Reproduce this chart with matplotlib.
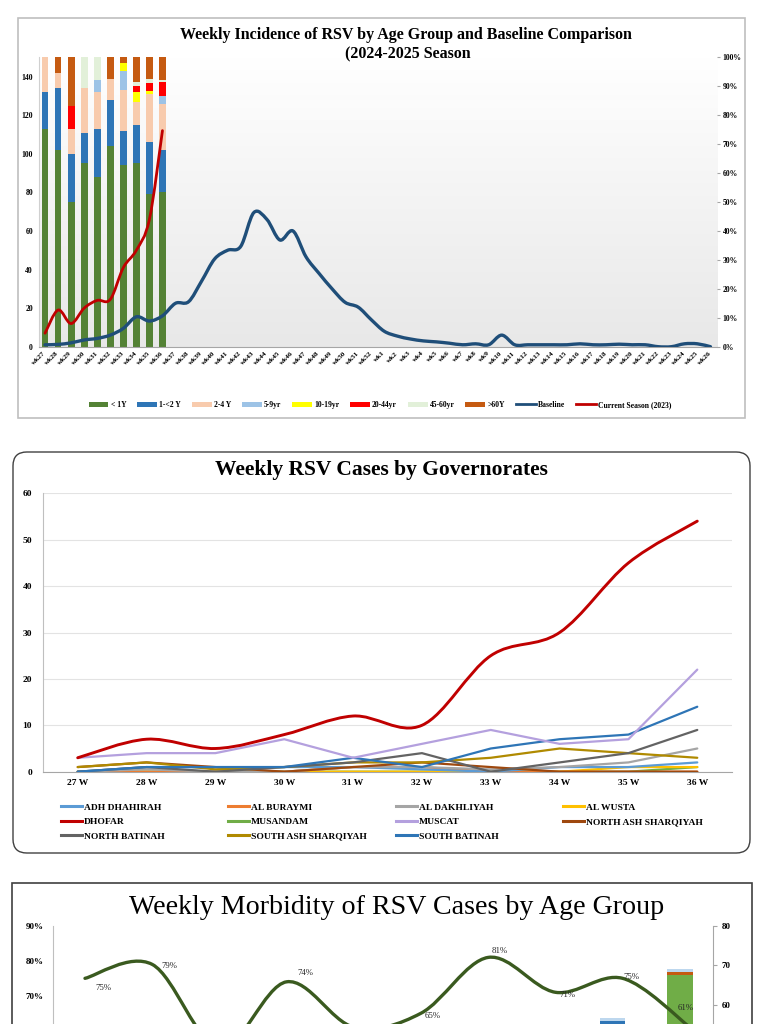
import numpy as np
import matplotlib
matplotlib.use("Agg")
import matplotlib.pyplot as plt
from matplotlib.path import Path
from matplotlib.patches import PathPatch, Rectangle, FancyBboxPatch, Patch
from matplotlib.lines import Line2D
from matplotlib.ticker import FuncFormatter

plt.rcParams['font.family'] = ['Liberation Serif', 'DejaVu Serif']

# ---------------- Panel 1 data ----------------
weeks_top = ["wk27", "wk28", "wk29", "wk30", "wk31", "wk32", "wk33", "wk34", "wk35", "wk36",
             "wk37", "wk38", "wk39", "wk40", "wk41", "wk42", "wk43", "wk44", "wk45", "wk46",
             "wk47", "wk48", "wk49", "wk50", "wk51", "wk52", "wk1", "wk2", "wk3", "wk4",
             "wk5", "wk6", "wk7", "wk8", "wk9", "wk10", "wk11", "wk12", "wk13", "wk14",
             "wk15", "wk16", "wk17", "wk18", "wk19", "wk20", "wk21", "wk22", "wk23", "wk24",
             "wk25", "wk26"]
age_labels = ["< 1Y", "1-<2 Y", "2-4 Y", "5-9yr", "10-19yr", "20-44yr", "45-60yr", ">60Y"]
age_lt1 = [113, 102, 75, 95, 88, 104, 94, 95, 79, 80]
age_1to2 = [19, 32, 25, 16, 25, 24, 18, 20, 27, 22]
age_2to4 = [25, 8, 13, 23, 19, 11, 21, 12, 25, 24]
age_5to9 = [0, 0, 0, 0, 6, 0, 10, 0, 0, 4]
age_10to19 = [0, 0, 0, 0, 0, 0, 4, 5, 1.5, 0]
age_20to44 = [0, 0, 12, 0, 0, 0, 0, 3, 4, 7]
age_45to60 = [0, 0, 0, 18, 14, 0, 0, 2, 2, 1]
age_gt60 = [0, 12, 30, 0, 0, 15, 8, 15, 14, 15]
current_season = [7, 19, 12, 20, 24, 24.5, 41, 50, 66, 112]
baseline = [1, 1.2, 2, 3.5, 4.3, 6, 9.5, 15.5, 13.3, 16,
            22.5, 23.3, 34, 45.5, 50, 52, 69.5, 66, 55.3, 60,
            46.6, 38, 30, 23, 20.5, 14,
            8, 5.5, 4, 3, 2.5, 1.8, 1, 1.5, 1, 6,
            1, 1, 1, 1, 1, 1.5, 1, 1, 1.3, 1,
            1, 0, 0, 1.5, 1.5, 0]

# ---------------- Panel 2 data ----------------
gov_weeks = ["27 W", "28 W", "29 W", "30 W", "31 W", "32 W", "33 W", "34 W", "35 W", "36 W"]
gov_names = ["ADH DHAHIRAH", "AL BURAYMI", "AL DAKHLIYAH", "AL WUSTA", "DHOFAR", "MUSANDAM",
             "MUSCAT", "NORTH ASH SHARQIYAH", "NORTH BATINAH", "SOUTH ASH SHARQIYAH", "SOUTH BATINAH"]
adh_dhahirah = [0, 1, 1, 1, 1, 0.5, 0, 1, 1, 2]
al_buraymi = [0, 0, 0, 0, 1, 1, 0, 0, 0, 0]
al_dakhliyah = [0, 0.5, 0, 0, 1, 1, 0.5, 1, 2, 5]
al_wusta = [0, 0, 0, 0, 0, 0, 0, 0, 1, 1]
dhofar = [3, 7, 5, 8, 12, 10, 25, 30, 45, 54]
musandam = [0, 0, 0, 0, 0, 0, 0, 0, 0, 1]
muscat = [3, 4, 4, 7, 3, 6, 9, 6, 7, 22]
north_ash_sharqiyah = [1, 2, 1, 0, 1, 2, 1, 0, 0, 0]
north_batinah = [0, 1, 0, 1, 2, 4, 0, 2, 4, 9]
south_ash_sharqiyah = [1, 2, 0.5, 1, 2, 2, 3, 5, 4, 3]
south_batinah = [0, 1, 1, 1, 3, 1, 5, 7, 8, 14]

# ---------------- Panel 3 data ----------------
morb_weeks = ["wk27", "wk28", "wk29", "wk30", "wk31", "wk32", "wk33", "wk34", "wk35", "wk36"]
morb_pct = [0.75, 0.79, 0.55, 0.74, 0.61, 0.65, 0.81, 0.71, 0.75, 0.61]
morb_lt1 = [38, 35, 22, 30, 25, 33, 40, 36, 42, 67.5]
morb_1to2 = [6, 5, 6, 5, 6, 6, 4, 6, 13.8, 0]
morb_gt60 = [1, 1, 2, 1, 1, 1, 1, 1, 0, 0.8]
morb_other = [1, 1, 1, 1, 1, 1, 1, 1, 0.8, 0.8]
morb_pct_ticks = [0.6, 0.7, 0.8, 0.9]
morb_count_ticks = [60, 70, 80]

W, H = 768, 1024
fig = plt.figure(figsize=(7.68, 10.24), dpi=100)
fig.patch.set_facecolor('white')


def fx(px):
    return px / W


def fy(py):
    return 1 - py / H


def smooth_patch(xs, ys, color, lw, zorder=3):
    pts = np.column_stack([xs, ys]).astype(float)
    n = len(pts)
    verts = [pts[0]]
    codes = [Path.MOVETO]
    for i in range(n - 1):
        p0 = pts[i - 1] if i > 0 else pts[i]
        p1 = pts[i]
        p2 = pts[i + 1]
        p3 = pts[i + 2] if i + 2 < n else pts[i + 1]
        verts += [p1 + (p2 - p0) / 6.0, p2 - (p3 - p1) / 6.0, p2]
        codes += [Path.CURVE4] * 3
    return PathPatch(Path(verts, codes), fill=False, edgecolor=color, lw=lw,
                     zorder=zorder, capstyle='round', joinstyle='round')


BOLD = dict(fontweight='bold', fontstyle='normal')

# ======================= PANEL 1 =======================
fig.patches.append(Rectangle((fx(18), fy(418)), fx(745 - 18), (418 - 18) / H,
                             transform=fig.transFigure, fill=False, ec='#BFBFBF', lw=1.2))
ax1 = fig.add_axes([fx(38.5), fy(346.7), fx(717 - 38.5), (346.7 - 57.3) / H])
grad = np.linspace(0, 1, 256).reshape(-1, 1)
c_top = np.array([1.0, 1.0, 1.0])
c_bot = np.array([0.91, 0.91, 0.91])
img = c_top[None, None, :] * (1 - grad[:, :, None]) + c_bot[None, None, :] * grad[:, :, None]
ax1.imshow(img, extent=[-0.5, len(weeks_top) - 0.5, 0, 150], aspect='auto', zorder=0,
           origin='upper', interpolation='bilinear')

x_top = np.arange(len(weeks_top))
x_bar = np.arange(len(age_lt1))
age_series = [age_lt1, age_1to2, age_2to4, age_5to9, age_10to19, age_20to44, age_45to60, age_gt60]
age_colors = ['#548235', '#2E75B6', '#F8CBAD', '#9DC3E6', '#FFFF00', '#FF0000', '#E2F0D9', '#C55A11']
bottom = np.zeros(len(age_lt1))
for vals, col in zip(age_series, age_colors):
    ax1.bar(x_bar, vals, 0.52, bottom=bottom, color=col, edgecolor='none', zorder=2)
    bottom += np.array(vals, dtype=float)

ax1.add_patch(smooth_patch(x_top, baseline, '#1F4E79', 2.4, zorder=3))
ax1.add_patch(smooth_patch(x_bar, current_season, '#C00000', 2.0, zorder=4))

ax1.set_xlim(-0.5, len(weeks_top) - 0.5)
ax1.set_ylim(0, 150)
ax1.set_yticks(np.arange(0, 141, 20))
ax1.set_xticks(x_top)
ax1.set_xticklabels(weeks_top, rotation=45, ha='right', va='center', rotation_mode='anchor',
                    fontsize=5.2, fontweight='bold')
ax1.tick_params(axis='x', length=0, pad=4)
ax1.tick_params(axis='y', length=0, labelsize=5.6, pad=4)
for t in ax1.get_yticklabels():
    t.set_fontweight('bold')
for s in ['top', 'right']:
    ax1.spines[s].set_visible(False)
ax1.spines['left'].set_color('#D0D0D0')
ax1.spines['bottom'].set_color('#A6A6A6')

ax1r = ax1.twinx()
ax1r.set_ylim(0, 1)
ax1r.set_yticks(np.arange(0, 1.01, 0.1))
ax1r.yaxis.set_major_formatter(FuncFormatter(lambda v, p: f"{v:.0%}"))
ax1r.tick_params(axis='y', length=2, color='#A6A6A6', labelsize=5.5, pad=2)
for t in ax1r.get_yticklabels():
    t.set_fontweight('bold')
for s in ['top', 'right', 'left', 'bottom']:
    ax1r.spines[s].set_visible(False)

fig.text(fx(406), fy(35), "Weekly Incidence of RSV by Age Group and Baseline Comparison",
         ha='center', va='center', fontsize=11.5, **BOLD)
fig.text(fx(408), fy(54), "(2024-2025 Season", ha='center', va='center', fontsize=11.5, **BOLD)

h1 = [Patch(facecolor=c, edgecolor='none') for c in age_colors]
h1 += [Line2D([], [], color='#1F4E79', lw=2), Line2D([], [], color='#C00000', lw=2)]
l1 = age_labels + ["Baseline", "Current Season (2023)"]
leg1 = fig.legend(h1, l1, loc='center', bbox_to_anchor=(fx(380), fy(405)), ncol=10, frameon=False,
                  fontsize=5.5, handlelength=2.6, handleheight=0.6, columnspacing=1.4,
                  handletextpad=0.3, borderpad=0)
for t in leg1.get_texts():
    t.set_fontweight('bold')

# ======================= PANEL 2 =======================
box2 = FancyBboxPatch((fx(13), fy(853)), fx(750 - 13), (853 - 452) / H,
                      boxstyle="round,pad=0,rounding_size=0.018", mutation_aspect=W / H,
                      transform=fig.transFigure, fill=False, ec='#404040', lw=1.0)
fig.patches.append(box2)
ax2 = fig.add_axes([fx(43.3), fy(771.7), fx(731.7 - 43.3), (771.7 - 493.3) / H])
xg = np.arange(len(gov_weeks))
gov_series = [adh_dhahirah, al_buraymi, al_dakhliyah, al_wusta, dhofar, musandam, muscat,
              north_ash_sharqiyah, north_batinah, south_ash_sharqiyah, south_batinah]
gov_colors = ['#5B9BD5', '#ED7D31', '#A5A5A5', '#FFC000', '#C00000', '#70AD47', '#B4A0DE',
              '#9E480E', '#636363', '#B08A00', '#2E75B6']
draw_order = [5, 3, 1, 0, 2, 7, 9, 8, 10, 6]
for k in draw_order:
    ax2.plot(xg, gov_series[k], color=gov_colors[k], lw=1.6, zorder=3, solid_capstyle='round')
ax2.add_patch(smooth_patch(xg, dhofar, '#C00000', 2.1, zorder=5))
ax2.set_xlim(-0.5, len(gov_weeks) - 0.5)
ax2.set_ylim(0, 60)
ax2.set_yticks(np.arange(0, 61, 10))
ax2.set_xticks(xg)
ax2.set_xticklabels(gov_weeks)
ax2.yaxis.grid(True, color='#E3E3E3', lw=0.8)
ax2.set_axisbelow(True)
ax2.tick_params(length=0, labelsize=6.8)
ax2.tick_params(axis='y', pad=8)
ax2.tick_params(axis='x', pad=5)
for t in ax2.get_xticklabels() + ax2.get_yticklabels():
    t.set_fontweight('bold')
for s in ['top', 'right']:
    ax2.spines[s].set_visible(False)
ax2.spines['left'].set_color('#BFBFBF')
ax2.spines['bottom'].set_color('#A6A6A6')

fig.text(fx(381), fy(470), "Weekly RSV Cases by Governorates", ha='center', va='center',
         fontsize=15.5, **BOLD)

col_x = [61, 228, 396, 563]
row_y = 810
for c in range(4):
    idx = [c + 4 * r for r in range(3) if c + 4 * r < len(gov_names)]
    hs = [Line2D([], [], color=gov_colors[i], lw=2.2) for i in idx]
    lg = fig.legend(hs, [gov_names[i] for i in idx], loc='upper left',
                    bbox_to_anchor=(fx(col_x[c]), fy(row_y - 7)), frameon=False, fontsize=6.8,
                    handlelength=2.2, handletextpad=0.2, labelspacing=0.62, borderpad=0,
                    borderaxespad=0)
    for t in lg.get_texts():
        t.set_fontweight('bold')

# ======================= PANEL 3 =======================
fig.patches.append(Rectangle((fx(12), fy(1200)), fx(752 - 12), (1200 - 883) / H,
                             transform=fig.transFigure, fill=False, ec='#404040', lw=1.2))
fig.text(fx(397), fy(907), "Weekly Morbidity of RSV Cases by Age Group", ha='center', va='center',
         fontsize=20.2)

ax3 = fig.add_axes([fx(53), fy(1240), fx(713 - 53), (1240 - 926) / H])
ax3r = ax3.twinx()
xm = np.arange(len(morb_weeks))
bot = np.zeros(len(xm))
for vals, col in zip([morb_lt1, morb_1to2, morb_gt60, morb_other],
                     ['#70AD47', '#2E75B6', '#C55A11', '#BDD7EE']):
    ax3r.bar(xm - 0.15, vals, 0.38, bottom=bot, color=col, edgecolor='none', zorder=2)
    bot += np.array(vals, dtype=float)
ax3r.set_ylim(0, 80)
ax3r.set_yticks(morb_count_ticks)
ax3r.tick_params(axis='y', length=3, color='#A6A6A6', labelsize=6.5, pad=3)
for t in ax3r.get_yticklabels():
    t.set_fontweight('bold')
for s in ['top', 'left', 'bottom']:
    ax3r.spines[s].set_visible(False)
ax3r.spines['right'].set_color('#A6A6A6')

ax3.set_zorder(ax3r.get_zorder() + 1)
ax3.patch.set_visible(False)
ax3.add_patch(smooth_patch(xm, morb_pct, '#3A5A1F', 2.4, zorder=4))
# label offsets (pixels); None = label falls below the visible part of the chart
label_offsets = [(18, -10), (17, -2), None, (19, 9), None, (12, -3),
                 (11, 6), (12, -3), (9, 1), (-4, 19)]
for i, (v, off) in enumerate(zip(morb_pct, label_offsets)):
    if off is None:
        continue
    ax3.annotate(f"{v:.0%}", xy=(i, v), xytext=off, textcoords='offset pixels',
                 ha='center', va='center', fontsize=6.3, color='#262626', zorder=6)
ax3.set_xlim(-0.476, 9.345)
ax3.set_ylim(0, 0.9)
ax3.set_yticks(morb_pct_ticks)
ax3.yaxis.set_major_formatter(FuncFormatter(lambda v, p: f"{v:.0%}"))
ax3.tick_params(axis='y', length=0, labelsize=6.5, pad=7)
ax3.set_xticks([])
for t in ax3.get_yticklabels():
    t.set_fontweight('bold')
for s in ['top', 'right', 'bottom']:
    ax3.spines[s].set_visible(False)
ax3.spines['left'].set_color('#BFBFBF')

fig.savefig("out.png", dpi=100)
